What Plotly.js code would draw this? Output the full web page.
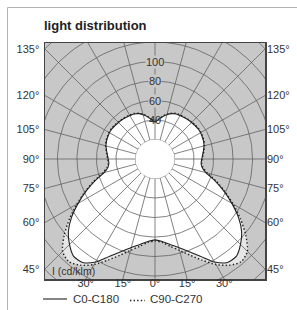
<!DOCTYPE html>
<html><head><meta charset="utf-8">
<script src="https://cdn.plot.ly/plotly-3.0.1.min.js"></script>
<style>html,body{margin:0;padding:0;background:#fff}#chart{width:297px;height:310px}</style>
</head><body><div id="chart"></div>
<script>
// gamma angle from nadir (deg) and luminous intensity (cd/klm)
const gammaDeg = [0,5,10,15,20,25,30,35,40,45,50,55,60,65,70,75,80,85,90,95,100,105,110,115,120,125,130,135,140,145,150,155,160,165,170,175,180];
const c0c180  = [83,85,89,94,101,110,122,129.5,130,124,116,104.5,91,78,65.5,54,49,47.5,48,49,50.5,52,53,53.5,54,54,53.5,53,52.5,52,51.5,51,49.5,47,44,40.5,38];
const c90c270 = [84,86,91,97,105,114.5,125,133,137.5,134,121.5,107,92.5,79,67,55.5,50,48,48.5,49.5,51,52.5,53.5,54,54.5,54.5,54,53.5,53,52.5,52,51.5,50,47.5,44.5,41,38.5];
const seriesNames = ['C0-C180','C90-C270'];
const ringValues = [20,40,60,80,100,120,140,160];
const spokeAngles = [0,15,30,45,60,75,90,105,120,135,150,165,180,195,210,225,240,255,270,285,300,315,330,345];
const sideTickAngles = [45,60,75,90,105,120,135];
const bottomTickAngles = [-30,-15,0,15,30];
const radialLabels = [40,60,80,100];

const DEG = Math.PI/180;
const XH = 112.8, YT = 119, YB = 123.1;
const GRID = '#626262', BG = '#c8c8c8', TXT = '#333333';
const FONT = 'Liberation Sans, Arial, sans-serif';
const DOTS = '1.4px,2.2px';

function polar(r, a){ return [r*Math.sin(a*DEG), -r*Math.cos(a*DEG)]; }
function fullCurve(vals){
  const x=[], y=[];
  const push=(r,a)=>{const p=polar(r,a); x.push(p[0]); y.push(p[1]);};
  for(let i=gammaDeg.length-1;i>=0;i--) push(vals[i], -gammaDeg[i]);
  for(let i=1;i<gammaDeg.length;i++) push(vals[i], gammaDeg[i]);
  return {x,y};
}
const solid = fullCurve(c0c180), dotted = fullCurve(c90c270);

// grid rings
const rx=[], ry=[];
ringValues.forEach(r=>{ for(let a=0;a<=360;a+=2){const p=polar(r,a); rx.push(p[0]); ry.push(p[1]);} rx.push(null); ry.push(null); });
// spokes
const sx=[], sy=[];
spokeAngles.forEach(a=>{ const p0=polar(ringValues[0],a), p1=polar(260,a); sx.push(p0[0],p1[0],null); sy.push(p0[1],p1[1],null); });
// inner hole
const hx=[], hy=[];
for(let a=0;a<=360;a+=3){const p=polar(ringValues[0],a); hx.push(p[0]); hy.push(p[1]);}

const common = {hoverinfo:'skip', showlegend:false, type:'scatter'};
const data = [
  Object.assign({}, common, {x:dotted.x, y:dotted.y, mode:'lines', fill:'toself', fillcolor:'#e6e6e6', line:{width:0, shape:'spline', smoothing:0.7}}),
  Object.assign({}, common, {x:solid.x, y:solid.y, mode:'lines', fill:'toself', fillcolor:'#ffffff', line:{width:0, shape:'spline', smoothing:0.7}}),
  Object.assign({}, common, {x:rx, y:ry, mode:'lines', line:{color:GRID, width:0.8}}),
  Object.assign({}, common, {x:sx, y:sy, mode:'lines', line:{color:GRID, width:0.8}}),
  Object.assign({}, common, {x:hx, y:hy, mode:'lines', fill:'toself', fillcolor:'#ffffff', line:{width:0}}),
  Object.assign({}, common, {name:seriesNames[0], x:solid.x, y:solid.y, mode:'lines', line:{color:'#222', width:1.1, shape:'spline', smoothing:0.7}}),
  Object.assign({}, common, {name:seriesNames[1], x:dotted.x, y:dotted.y, mode:'lines', line:{color:'#222', width:1.4, dash:DOTS, shape:'spline', smoothing:0.7}}),
  Object.assign({}, common, {x:[0], y:[0], yaxis:'y2', mode:'markers', marker:{opacity:0}})
];

const tickFont = {family:FONT, size:11, color:TXT};
const sideVals = sideTickAngles.map(a=> -XH*Math.cos(a*DEG)/Math.sin(a*DEG));
const sideText = sideTickAngles.map(a=> a+'°');

// px -> paper helpers for layout decorations
const L=45, R=265, T=43, B=279;
const px = v => (v-L)/(R-L), py = v => (B-v)/(B-T);

const annotations = radialLabels.map(r=>({
  x:0, y:r*1, xref:'x', yref:'y', text:String(r), showarrow:false,
  font:{family:FONT, size:11, color:TXT}, bgcolor: r===40 ? 'rgba(0,0,0,0)' : BG, borderpad:0,
  xanchor:'center', yanchor:'middle'
}));
annotations.push({x:px(50), y:py(271), xref:'paper', yref:'paper', text:'I (cd/klm)', showarrow:false,
  font:{family:FONT, size:10.5, color:TXT}, xanchor:'left', yanchor:'middle'});
annotations.push({x:px(71), y:py(299), xref:'paper', yref:'paper', text:seriesNames[0], showarrow:false,
  font:{family:FONT, size:11.5, color:TXT}, xanchor:'left', yanchor:'middle'});
annotations.push({x:px(148), y:py(299), xref:'paper', yref:'paper', text:seriesNames[1], showarrow:false,
  font:{family:FONT, size:11.5, color:TXT}, xanchor:'left', yanchor:'middle'});

const shapes = [
  {type:'rect', xref:'paper', yref:'paper', x0:px(7.5), y0:py(7.5), x1:px(400), y1:py(400), line:{color:'#b4b4b4', width:1}},
  {type:'line', xref:'paper', yref:'paper', x0:px(43), x1:px(67), y0:py(299), y1:py(299), line:{color:'#222', width:1.1}},
  {type:'line', xref:'paper', yref:'paper', x0:px(130), x1:px(145), y0:py(300.5), y1:py(300.5), line:{color:'#222', width:1.4, dash:DOTS}}
];

const layout = {
  width:297, height:310,
  margin:{l:L, r:297-R, t:T, b:310-B, pad:0},
  paper_bgcolor:'#fff', plot_bgcolor:BG,
  showlegend:false, hovermode:false,
  title:{text:'<b>light distribution</b>', font:{family:FONT, size:13, color:'#222'}, xref:'container', yref:'container', x:44/297, xanchor:'left', y:1-25/310, yanchor:'middle'},
  xaxis:{range:[-XH,XH], showgrid:false, zeroline:false, showline:true, mirror:true, linecolor:'#444', linewidth:1.5,
    tickmode:'array', tickvals:bottomTickAngles.map(a=>YB*Math.tan(a*DEG)), ticktext:bottomTickAngles.map(a=>Math.abs(a)+'°'),
    ticks:'', tickfont:tickFont, ticklabelstandoff:-7, fixedrange:true},
  yaxis:{range:[-YB,YT], showgrid:false, zeroline:false, showline:true, mirror:true, linecolor:'#444', linewidth:1.5,
    tickmode:'array', tickvals:sideVals, ticktext:sideText, ticks:'', tickfont:tickFont, ticklabelstandoff:2, fixedrange:true},
  yaxis2:{range:[-YB,YT], overlaying:'y', side:'right', showgrid:false, zeroline:false, showline:false,
    tickmode:'array', tickvals:sideVals, ticktext:sideText, ticks:'', tickfont:tickFont, ticklabelstandoff:1, fixedrange:true},
  annotations, shapes
};
Plotly.newPlot('chart', data, layout, {displayModeBar:false, staticPlot:true});
</script></body></html>
